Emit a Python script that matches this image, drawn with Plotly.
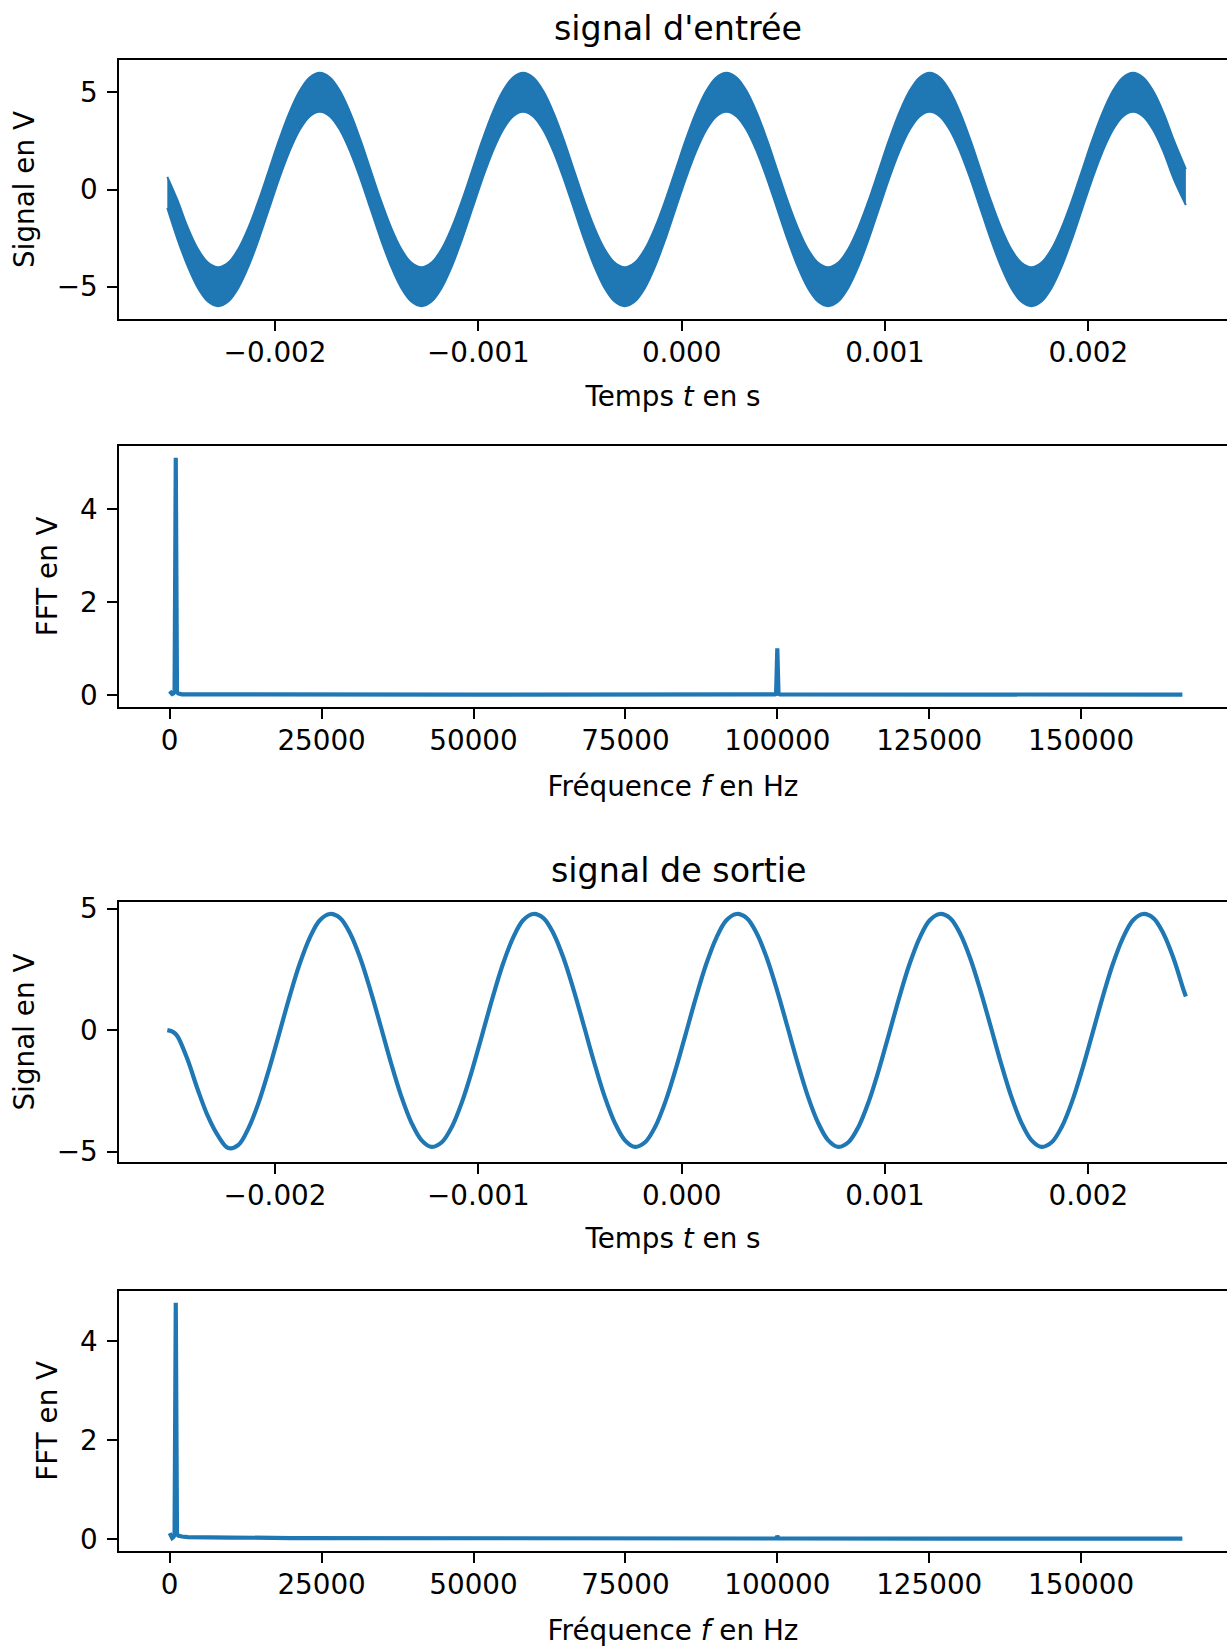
import plotly.graph_objects as go

W, H = 1227, 1647
BLUE = "#1f77b4"
FONT = "DejaVu Sans"

# ---------------- data ----------------
# input signal: 1 kHz sine (5 V) + fast 100 kHz ripple (1 V) -> drawn as its envelope band
t_in = [-0.00253, -0.00248, -0.00243, -0.00238, -0.00233, -0.00228, -0.00223, -0.00218, -0.00213, -0.00208,
        -0.00203, -0.00198, -0.00193, -0.00188, -0.00183, -0.00178, -0.00173, -0.00168, -0.00163, -0.00158,
        -0.00153, -0.00148, -0.00143, -0.00138, -0.00133, -0.00128, -0.00123, -0.00118, -0.00113, -0.00108,
        -0.00103, -0.00098, -0.00093, -0.00088, -0.00083, -0.00078, -0.00073, -0.00068, -0.00063, -0.00058,
        -0.00053, -0.00048, -0.00043, -0.00038, -0.00033, -0.00028, -0.00023, -0.00018, -0.00013, -0.00008,
        -0.00003, 0.00002, 0.00007, 0.00012, 0.00017, 0.00022, 0.00027, 0.00032, 0.00037, 0.00042,
        0.00047, 0.00052, 0.00057, 0.00062, 0.00067, 0.00072, 0.00077, 0.00082, 0.00087, 0.00092,
        0.00097, 0.00102, 0.00107, 0.00112, 0.00117, 0.00122, 0.00127, 0.00132, 0.00137, 0.00142,
        0.00147, 0.00152, 0.00157, 0.00162, 0.00167, 0.00172, 0.00177, 0.00182, 0.00187, 0.00192,
        0.00197, 0.00202, 0.00207, 0.00212, 0.00217, 0.00222, 0.00227, 0.00232, 0.00237, 0.00242,
        0.00248]
v_in_upper = [0.65, -0.55, -1.94, -3.05, -3.76, -4.00, -3.76, -3.05, -1.94, -0.55,
              1.00, 2.55, 3.94, 5.05, 5.76, 6.00, 5.76, 5.05, 3.94, 2.55,
              1.00, -0.55, -1.94, -3.05, -3.76, -4.00, -3.76, -3.05, -1.94, -0.55,
              1.00, 2.55, 3.94, 5.05, 5.76, 6.00, 5.76, 5.05, 3.94, 2.55,
              1.00, -0.55, -1.94, -3.05, -3.76, -4.00, -3.76, -3.05, -1.94, -0.55,
              1.00, 2.55, 3.94, 5.05, 5.76, 6.00, 5.76, 5.05, 3.94, 2.55,
              1.00, -0.55, -1.94, -3.05, -3.76, -4.00, -3.76, -3.05, -1.94, -0.55,
              1.00, 2.55, 3.94, 5.05, 5.76, 6.00, 5.76, 5.05, 3.94, 2.55,
              1.00, -0.55, -1.94, -3.05, -3.76, -4.00, -3.76, -3.05, -1.94, -0.55,
              1.00, 2.55, 3.94, 5.05, 5.76, 6.00, 5.76, 5.05, 3.94, 2.55,
              1.05]
v_in_lower = [-0.95, -2.55, -3.94, -5.05, -5.76, -6.00, -5.76, -5.05, -3.94, -2.55,
              -1.00, 0.55, 1.94, 3.05, 3.76, 4.00, 3.76, 3.05, 1.94, 0.55,
              -1.00, -2.55, -3.94, -5.05, -5.76, -6.00, -5.76, -5.05, -3.94, -2.55,
              -1.00, 0.55, 1.94, 3.05, 3.76, 4.00, 3.76, 3.05, 1.94, 0.55,
              -1.00, -2.55, -3.94, -5.05, -5.76, -6.00, -5.76, -5.05, -3.94, -2.55,
              -1.00, 0.55, 1.94, 3.05, 3.76, 4.00, 3.76, 3.05, 1.94, 0.55,
              -1.00, -2.55, -3.94, -5.05, -5.76, -6.00, -5.76, -5.05, -3.94, -2.55,
              -1.00, 0.55, 1.94, 3.05, 3.76, 4.00, 3.76, 3.05, 1.94, 0.55,
              -1.00, -2.55, -3.94, -5.05, -5.76, -6.00, -5.76, -5.05, -3.94, -2.55,
              -1.00, 0.55, 1.94, 3.05, 3.76, 4.00, 3.76, 3.05, 1.94, 0.55,
              -0.80]

# spectrum of the input signal
f_in = [0, 200, 400, 600, 800, 1000, 1200, 1400, 1600, 2000, 5000, 20000, 50000,
        99600, 99800, 100000, 100200, 100400, 130000, 166667]
a_in = [0.08, 0.03, 0.02, 0.03, 0.06, 5.10, 0.06, 0.03, 0.02, 0.01, 0.01, 0.005, 0.005,
        0.01, 0.02, 1.00, 0.02, 0.01, 0.005, 0.005]

# output (filtered) signal
t_out = [-0.00253, -0.00250, -0.00248, -0.00243, -0.00238, -0.00233, -0.00228, -0.00223, -0.00218, -0.00213,
         -0.00208, -0.00203, -0.00198, -0.00193, -0.00188, -0.00183, -0.00178, -0.00173, -0.00168, -0.00163,
         -0.00158, -0.00153, -0.00148, -0.00143, -0.00138, -0.00133, -0.00128, -0.00123, -0.00118, -0.00113,
         -0.00108, -0.00103, -0.00098, -0.00093, -0.00088, -0.00083, -0.00078, -0.00073, -0.00068, -0.00063,
         -0.00058, -0.00053, -0.00048, -0.00043, -0.00038, -0.00033, -0.00028, -0.00023, -0.00018, -0.00013,
         -0.00008, -0.00003, 0.00002, 0.00007, 0.00012, 0.00017, 0.00022, 0.00027, 0.00032, 0.00037,
         0.00042, 0.00047, 0.00052, 0.00057, 0.00062, 0.00067, 0.00072, 0.00077, 0.00082, 0.00087,
         0.00092, 0.00097, 0.00102, 0.00107, 0.00112, 0.00117, 0.00122, 0.00127, 0.00132, 0.00137,
         0.00142, 0.00147, 0.00152, 0.00157, 0.00162, 0.00167, 0.00172, 0.00177, 0.00182, 0.00187,
         0.00192, 0.00197, 0.00202, 0.00207, 0.00212, 0.00217, 0.00222, 0.00227, 0.00232, 0.00237,
         0.00242, 0.00247, 0.00248]
v_out = [0.00, -0.08, -0.25, -1.22, -2.45, -3.55, -4.35, -4.85, -4.72, -4.02,
         -2.96, -1.62, -0.15, 1.34, 2.70, 3.79, 4.52, 4.78, 4.61, 3.97,
         2.94, 1.62, 0.15, -1.34, -2.70, -3.79, -4.52, -4.80, -4.61, -3.97,
         -2.94, -1.62, -0.15, 1.34, 2.70, 3.79, 4.52, 4.78, 4.61, 3.97,
         2.94, 1.62, 0.15, -1.34, -2.70, -3.79, -4.52, -4.80, -4.61, -3.97,
         -2.94, -1.62, -0.15, 1.34, 2.70, 3.79, 4.52, 4.78, 4.61, 3.97,
         2.94, 1.62, 0.15, -1.34, -2.70, -3.79, -4.52, -4.80, -4.61, -3.97,
         -2.94, -1.62, -0.15, 1.34, 2.70, 3.79, 4.52, 4.78, 4.61, 3.97,
         2.94, 1.62, 0.15, -1.34, -2.70, -3.79, -4.52, -4.80, -4.61, -3.97,
         -2.94, -1.62, -0.15, 1.34, 2.70, 3.79, 4.52, 4.78, 4.61, 3.97,
         2.94, 1.62, 1.39]

# spectrum of the output signal
f_out = [0, 200, 400, 600, 800, 1000, 1200, 1400, 1600, 2000, 3000, 5000, 10000, 20000,
         40000, 70000, 99800, 100000, 100200, 130000, 166667]
a_out = [0.12, 0.03, 0.02, 0.04, 0.08, 4.77, 0.10, 0.07, 0.06, 0.05, 0.04, 0.035, 0.03, 0.02,
         0.015, 0.01, 0.01, 0.06, 0.01, 0.008, 0.006]

# ticks and labels
time_ticks = [-0.002, -0.001, 0.0, 0.001, 0.002]
time_ticktext = ["\u22120.002", "\u22120.001", "0.000", "0.001", "0.002"]
freq_ticks = [0, 25000, 50000, 75000, 100000, 125000, 150000]
freq_ticktext = ["0", "25000", "50000", "75000", "100000", "125000", "150000"]
sig_ticks = [-5, 0, 5]
sig_ticktext = ["\u22125", "0", "5"]
fft_ticks = [0, 2, 4]
fft_ticktext = ["0", "2", "4"]

title_in = "signal d'entrée"
title_out = "signal de sortie"
xlabel_t = "Temps <i>t</i> en s"
xlabel_f = "Fréquence <i>f</i> en Hz"
ylabel_sig = "Signal en V"
ylabel_fft = "FFT en V"

# ---------------- figure ----------------
fig = go.Figure()

fig.add_trace(go.Scatter(x=t_in, y=v_in_lower, mode="lines", line=dict(color=BLUE, width=2, shape="spline"),
                         xaxis="x", yaxis="y", showlegend=False, hoverinfo="skip"))
fig.add_trace(go.Scatter(x=t_in, y=v_in_upper, mode="lines", line=dict(color=BLUE, width=2, shape="spline"),
                         fill="tonexty", fillcolor=BLUE, xaxis="x", yaxis="y", showlegend=False))
fig.add_trace(go.Scatter(x=f_in, y=a_in, mode="lines", line=dict(color=BLUE, width=4.2),
                         xaxis="x2", yaxis="y2", showlegend=False))
fig.add_trace(go.Scatter(x=t_out, y=v_out, mode="lines", line=dict(color=BLUE, width=4.2, shape="spline"),
                         xaxis="x3", yaxis="y3", showlegend=False))
fig.add_trace(go.Scatter(x=f_out, y=a_out, mode="lines", line=dict(color=BLUE, width=4.2),
                         xaxis="x4", yaxis="y4", showlegend=False))

TICKFONT = dict(family=FONT, size=27.8, color="black")
LABELFONT = dict(family=FONT, size=27.8, color="black")

def py(px):
    return 1 - px / H

def xaxis(rng, tv, tt, label, anchor, standoff):
    return dict(domain=[119 / W, 1], range=rng, anchor=anchor, automargin=False,
                showline=True, linecolor="black", linewidth=2.2, mirror=True,
                ticks="outside", ticklen=9.7, tickwidth=2.2, tickcolor="black",
                tickvals=tv, ticktext=tt, tickfont=TICKFONT, ticklabelstandoff=-2,
                showgrid=False, zeroline=False,
                title=dict(text=label, font=LABELFONT, standoff=standoff))

def yaxis(dom, rng, tv, tt, label, anchor):
    return dict(domain=dom, range=rng, anchor=anchor, automargin=False,
                showline=True, linecolor="black", linewidth=2.2, mirror=False,
                ticks="outside", ticklen=9.7, tickwidth=2.2, tickcolor="black",
                tickvals=tv, ticktext=tt, tickfont=TICKFONT, ticklabelstandoff=4,
                showgrid=False, zeroline=False,
                title=dict(text=label, font=LABELFONT, standoff=14))

t_range = [-0.0027676, 0.0026823]
f_range = [-8344, 174012]

fig.update_layout(
    template="none",
    width=W, height=H,
    margin=dict(l=0, r=0, t=0, b=0, pad=0, autoexpand=False),
    paper_bgcolor="white", plot_bgcolor="white",
    font=dict(family=FONT, color="black"),
    showlegend=False,
    xaxis=xaxis(t_range, time_ticks, time_ticktext, xlabel_t, "y", 18),
    yaxis=yaxis([py(319), py(60)], [-6.66, 6.66], sig_ticks, sig_ticktext, ylabel_sig, "x"),
    xaxis2=xaxis(f_range, freq_ticks, freq_ticktext, xlabel_f, "y2", 21),
    yaxis2=yaxis([py(706.7), py(446)], [-0.255, 5.355], fft_ticks, fft_ticktext, ylabel_fft, "x2"),
    xaxis3=xaxis(t_range, time_ticks, time_ticktext, xlabel_t, "y3", 18),
    yaxis3=yaxis([py(1161.7), py(902.3)], [-5.41, 5.26], sig_ticks, sig_ticktext, ylabel_sig, "x3"),
    xaxis4=xaxis(f_range, freq_ticks, freq_ticktext, xlabel_f, "y4", 21),
    yaxis4=yaxis([py(1550.7), py(1291)], [-0.236, 5.01], fft_ticks, fft_ticktext, ylabel_fft, "x4"),
    annotations=[
        dict(text=title_in, xref="paper", yref="paper", x=678 / W, y=py(28.4),
             xanchor="center", yanchor="middle", showarrow=False,
             font=dict(family=FONT, size=33.3, color="black")),
        dict(text=title_out, xref="paper", yref="paper", x=678 / W, y=py(870.9),
             xanchor="center", yanchor="middle", showarrow=False,
             font=dict(family=FONT, size=33.3, color="black")),
    ],
)

post = (
    "document.documentElement.style.margin='0';"
    "document.documentElement.style.padding='0';"
    "document.documentElement.style.overflow='hidden';"
    "document.body.style.margin='0';"
    "document.body.style.padding='0';"
    "document.body.style.overflow='hidden';"
    "var gd=document.querySelector('.plotly-graph-div');"
    "if(gd){gd.style.position='fixed';gd.style.left='0px';gd.style.top='0px';}"
)

fig.write_html("out.html", config={"displayModeBar": False}, post_script=post)
